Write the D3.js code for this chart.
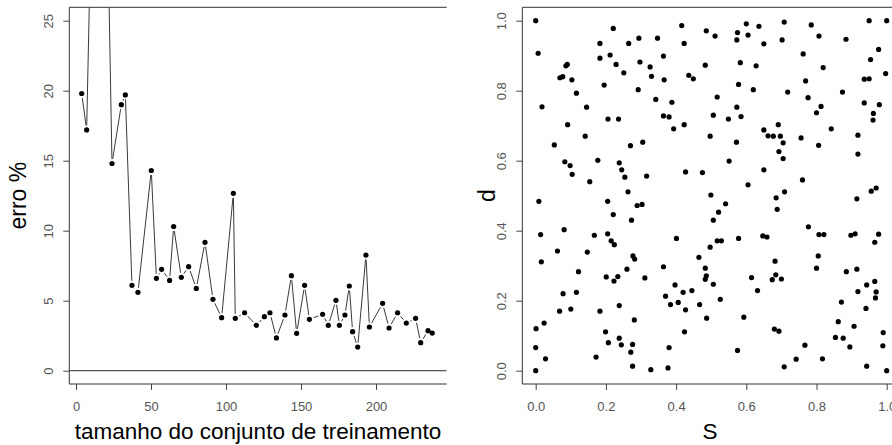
<!DOCTYPE html>
<html>
<head>
<meta charset="utf-8">
<script src="https://cdn.jsdelivr.net/npm/d3@7"></script>
<style>
  body { margin: 0; background: #fff; }
  svg { display: block; font-family: "Liberation Sans", Arial, sans-serif; }
</style>
</head>
<body>
<svg id="chart" width="892" height="445"></svg>
<script>
// left panel: error vs training set size
var sizeX = [3.8, 7.1, 16, 24, 30.2, 32.9, 37.3, 41.3, 50.2, 53.6, 57.1, 62.4, 65.1, 70.2, 75.1, 80.2, 86, 91.3, 97.1, 104.9,
  106.2, 112.4, 120.2, 125.6, 129.3, 133.6, 139.3, 143.6, 147.1, 152.4, 155.6, 164.4, 168.2, 173.3, 175.6, 179.3, 182.2,
  184.4, 187.8, 193.3, 195.6, 204.4, 208.7, 214.4, 220.2, 226.4, 229.8, 234.7, 237.5];
var erro = [19.8, 17.2, 62, 14.8, 19.0, 19.7, 6.1, 5.6, 14.3, 6.6, 7.24, 6.45, 10.3, 6.67, 7.43, 5.88, 9.17, 5.1, 3.79, 12.67,
  3.74, 4.14, 3.24, 3.86, 4.14, 2.34, 3.98, 6.79, 2.67, 6.1, 3.67, 4.03, 3.24, 5.03, 3.24, 3.98, 6.05,
  2.79, 1.69, 8.26, 3.12, 4.81, 3.05, 4.14, 3.4, 3.74, 2.0, 2.86, 2.69];
var sizeTicks = [0, 50, 100, 150, 200];
var erroTicks = [0, 5, 10, 15, 20, 25];

// right panel: S vs d
var S = [0.000, 0.221, 0.183, 0.007, 0.183, 0.212, 0.229, 0.090, 0.086, 0.069, 0.077, 0.103, 0.195, 0.116, 0.018, 0.145, 0.206, 0.236, 0.091, 0.141,
  0.416, 0.486, 0.511, 0.575, 0.600, 0.605, 0.573, 0.265, 0.294, 0.347, 0.423, 0.297, 0.364, 0.326, 0.251, 0.330, 0.366, 0.436, 0.449, 0.483,
  0.583, 0.578, 0.292, 0.342, 0.388, 0.517, 0.573, 0.364, 0.380, 0.506, 0.549, 0.585, 0.393, 0.423, 0.497,
  0.636, 0.708, 0.785, 0.950, 1.000, 0.650, 0.702, 0.807, 0.884, 0.628, 0.762, 0.819, 0.977, 0.954, 0.997, 0.620, 0.718, 0.769, 0.776, 0.874,
  0.936, 0.950, 0.813, 0.800, 0.936, 0.979, 0.962, 0.961, 0.691, 0.650, 0.662, 0.677, 0.697, 0.756, 0.842, 0.918,
  0.053, 0.083, 0.098, 0.104, 0.177, 0.238, 0.154, 0.009, 0.205, 0.221, 0.081, 0.014, 0.167, 0.205, 0.215, 0.224, 0.062, 0.147, 0.016,
  0.270, 0.305, 0.572, 0.245, 0.254, 0.316, 0.427, 0.475, 0.551, 0.605, 0.263, 0.499, 0.289, 0.303, 0.541, 0.521, 0.273, 0.506, 0.401, 0.517,
  0.529, 0.578, 0.497, 0.277, 0.282, 0.465, 0.260, 0.364, 0.483,
  0.705, 0.806, 0.693, 0.705, 0.918, 0.650, 0.760, 0.709, 0.685, 0.688, 0.956, 0.970, 0.915, 0.777, 0.647, 0.659, 0.807, 0.821, 0.898, 0.910,
  0.977, 0.966, 0.805, 0.682, 0.800, 0.915,
  0.122, 0.078, 0.116, 0.201, 0.223, 0.234, 0.238, 0.068, 0.100, 0.183, 0.001, 0.024, 0.199, 0.207, 0.238, 0.000, 0.028, 0.172, 0.000,
  0.311, 0.486, 0.483, 0.506, 0.370, 0.397, 0.420, 0.445, 0.384, 0.406, 0.427, 0.467, 0.526, 0.281, 0.487, 0.424, 0.244, 0.276, 0.271, 0.276,
  0.328, 0.377, 0.380, 0.575, 0.593, 0.615, 0.632, 0.674, 0.684, 0.700, 0.680, 0.693, 0.708, 0.742, 0.767, 0.817, 0.854, 0.862, 0.871, 0.876,
  0.885, 0.895, 0.907, 0.918, 0.941, 0.943, 0.943, 0.966, 0.970, 0.968, 0.990, 0.989, 1.000];
var d = [1.000, 0.978, 0.935, 0.907, 0.893, 0.902, 0.875, 0.875, 0.871, 0.837, 0.840, 0.831, 0.816, 0.793, 0.754, 0.753, 0.719, 0.719, 0.703, 0.670,
  0.986, 0.971, 0.956, 0.966, 0.991, 0.959, 0.945, 0.935, 0.950, 0.950, 0.935, 0.882, 0.899, 0.868, 0.851, 0.841, 0.831, 0.844, 0.834, 0.873,
  0.880, 0.818, 0.803, 0.775, 0.767, 0.782, 0.753, 0.728, 0.725, 0.730, 0.719, 0.726, 0.691, 0.703, 0.670,
  0.984, 0.996, 0.988, 1.000, 1.000, 0.934, 0.945, 0.956, 0.947, 0.871, 0.905, 0.866, 0.918, 0.889, 0.849, 0.803, 0.796, 0.828, 0.780, 0.796,
  0.833, 0.834, 0.755, 0.737, 0.765, 0.760, 0.735, 0.716, 0.703, 0.688, 0.671, 0.670, 0.670, 0.665, 0.691, 0.673,
  0.645, 0.597, 0.586, 0.561, 0.601, 0.594, 0.540, 0.484, 0.484, 0.446, 0.403, 0.389, 0.387, 0.391, 0.371, 0.360, 0.342, 0.339, 0.311,
  0.643, 0.653, 0.653, 0.574, 0.553, 0.556, 0.568, 0.566, 0.599, 0.531, 0.511, 0.502, 0.472, 0.475, 0.477, 0.453, 0.430, 0.430, 0.378, 0.371,
  0.371, 0.378, 0.353, 0.328, 0.319, 0.324, 0.290, 0.297, 0.293,
  0.651, 0.644, 0.626, 0.606, 0.619, 0.574, 0.545, 0.511, 0.494, 0.461, 0.513, 0.522, 0.491, 0.411, 0.385, 0.382, 0.389, 0.389, 0.387, 0.391,
  0.390, 0.367, 0.328, 0.313, 0.293, 0.290,
  0.283, 0.220, 0.224, 0.268, 0.256, 0.269, 0.186, 0.170, 0.176, 0.170, 0.120, 0.136, 0.111, 0.080, 0.093, 0.066, 0.034, 0.039, 0.000,
  0.265, 0.271, 0.261, 0.247, 0.213, 0.245, 0.224, 0.229, 0.189, 0.195, 0.174, 0.189, 0.204, 0.145, 0.150, 0.111, 0.074, 0.075, 0.053, 0.013,
  0.003, 0.008, 0.066, 0.058, 0.153, 0.266, 0.229, 0.260, 0.274, 0.262, 0.119, 0.113, 0.011, 0.033, 0.073, 0.034, 0.095, 0.140, 0.196, 0.093,
  0.283, 0.068, 0.127, 0.226, 0.178, 0.245, 0.013, 0.255, 0.225, 0.208, 0.109, 0.071, 0.000];
var unitTicks = [0, 0.2, 0.4, 0.6, 0.8, 1.0];

var svg = d3.select("#chart");
var plotTop = 7.3, plotBottom = 384;

function panel(x, y, xTicks, yTicks, fmt, xTitle, yTitle, yTitleX) {
  var x0 = x.range()[0], x1 = x.range()[1];
  var g = svg.append("g");

  g.append("g")
      .attr("transform", "translate(0," + plotBottom + ")")
      .call(d3.axisBottom(x).tickValues(xTicks).tickFormat(fmt).tickSize(6).tickPadding(12))
      .call(function(a) {
        a.select(".domain").remove();
        a.selectAll("line").attr("stroke", "#444");
        a.selectAll("text").attr("fill", "#555").attr("font-size", 13).attr("font-family", null);
      });

  g.append("g")
      .attr("transform", "translate(" + x0 + ",0)")
      .call(d3.axisLeft(y).tickValues(yTicks).tickFormat(fmt).tickSize(6))
      .call(function(a) {
        a.select(".domain").remove();
        a.selectAll("line").attr("stroke", "#444");
        a.selectAll("text")
            .attr("fill", "#555").attr("font-size", 13).attr("font-family", null)
            .attr("x", 0).attr("y", -16).attr("dy", 0)
            .attr("text-anchor", "middle")
            .attr("transform", "rotate(-90)");
      });

  // box, right side falls outside the picture
  g.append("path")
      .attr("d", "M" + x1 + "," + plotTop + "H" + x0 + "V" + plotBottom + "H" + x1)
      .attr("fill", "none").attr("stroke", "#333");

  g.append("text")
      .attr("x", (x0 + x1) / 2).attr("y", 439)
      .attr("text-anchor", "middle").attr("font-size", 22.5).attr("fill", "#000")
      .text(xTitle);
  g.append("text")
      .attr("transform", "translate(" + yTitleX + "," + ((plotTop + plotBottom) / 2) + ") rotate(-90)")
      .attr("text-anchor", "middle").attr("font-size", 23).attr("fill", "#000")
      .text(yTitle);
  return g;
}

// ---- left
var xL = d3.scaleLinear().domain([(69.3 - 76) / 1.5, (446.7 - 76) / 1.5]).range([69.3, 446.7]);
var yL = d3.scaleLinear().domain([(370.7 - plotBottom) / 14, (370.7 - plotTop) / 14]).range([plotBottom, plotTop]);
var left = panel(xL, yL, sizeTicks, erroTicks, d3.format("d"), "tamanho do conjunto de treinamento", "erro %", 26);

svg.append("clipPath").attr("id", "clipL")
  .append("rect").attr("x", 69.3).attr("y", plotTop).attr("width", 446.7 - 69.3).attr("height", plotBottom - plotTop);

var plotL = left.append("g").attr("clip-path", "url(#clipL)");
plotL.append("line")
    .attr("x1", 69.3).attr("x2", 446.7).attr("y1", yL(0)).attr("y2", yL(0))
    .attr("stroke", "#555").attr("stroke-width", 1.2);

var pts = sizeX.map(function(v, i) { return [xL(v), yL(erro[i])]; });
var gap = 4.5;
var segs = [];
for (var i = 1; i < pts.length; i++) {
  var a = pts[i - 1], b = pts[i];
  var dx = b[0] - a[0], dy = b[1] - a[1], len = Math.sqrt(dx * dx + dy * dy);
  if (len > 2 * gap) segs.push([a[0] + dx / len * gap, a[1] + dy / len * gap, b[0] - dx / len * gap, b[1] - dy / len * gap]);
}
plotL.selectAll("line.seg").data(segs).enter().append("line")
    .attr("class", "seg")
    .attr("x1", function(s) { return s[0]; }).attr("y1", function(s) { return s[1]; })
    .attr("x2", function(s) { return s[2]; }).attr("y2", function(s) { return s[3]; })
    .attr("stroke", "#3a3a3a").attr("stroke-width", 1);
plotL.selectAll("circle").data(pts).enter().append("circle")
    .attr("cx", function(p) { return p[0]; }).attr("cy", function(p) { return p[1]; })
    .attr("r", 2.6).attr("fill", "#000");

// ---- right
var xR = d3.scaleLinear().domain([(522.3 - 535.7) / 351, (897.7 - 535.7) / 351]).range([522.3, 897.7]);
var yR = d3.scaleLinear().domain([(370.7 - plotBottom) / 350, (370.7 - plotTop) / 350]).range([plotBottom, plotTop]);
var right = panel(xR, yR, unitTicks, unitTicks, d3.format(".1f"), "S", "d", 495);

right.selectAll("circle").data(S).enter().append("circle")
    .attr("cx", function(s) { return xR(s); })
    .attr("cy", function(s, i) { return yR(d[i]); })
    .attr("r", 2.6).attr("fill", "#000");
</script>
</body>
</html>
